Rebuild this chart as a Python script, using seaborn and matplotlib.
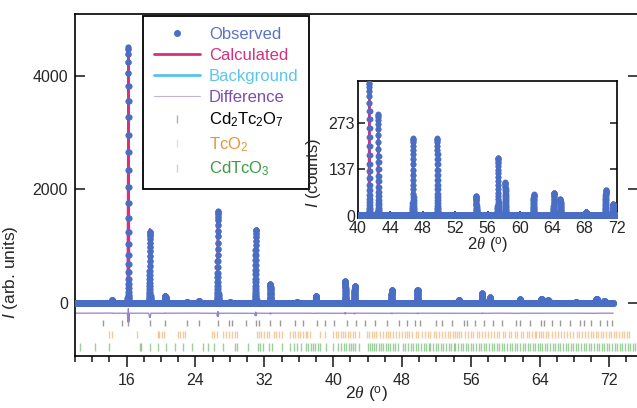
import numpy as np
import pandas as pd
import seaborn as sns
import matplotlib.pyplot as plt
from matplotlib.lines import Line2D
from matplotlib.ticker import MultipleLocator

# Reflections: 2theta (deg) and heights
peak_pos = [14.3, 16.2, 18.7, 20.5, 23.0, 24.4, 26.6, 28.0, 31.0, 32.7, 35.8, 38.0,
            41.4, 42.5, 46.8, 49.8, 54.6, 57.3, 58.2, 61.7, 64.2, 65.0, 68.2, 70.6, 71.5]
obs_height = [55, 4500, 1250, 120, 10, 40, 1610, 10, 1290, 330, 10, 120,
              385, 295, 225, 225, 55, 168, 95, 60, 65, 46, 10, 72, 32]
calc_height = [50, 4420, 1300, 115, 10, 38, 1580, 10, 1270, 325, 10, 118,
               370, 290, 222, 222, 54, 165, 94, 59, 64, 45, 10, 71, 31]
bkg_level = 3
diff_offset = -180

# Bragg tick positions (2theta, deg) for the three phases
cd2tc2o7_ticks = [13.2, 15.5, 16.2, 18.7, 20.5, 23.0, 24.4, 26.6, 27.9, 28.3, 29.9, 31.0,
                  31.4, 32.7, 33.8, 35.6, 36.5, 38.1, 39.1, 40.1, 41.6, 42.6, 43.7, 44.9,
                  46.3, 47.6, 48.6, 49.5, 50.1, 51.9, 52.6, 53.8, 55.2, 55.5, 56.5, 57.5,
                  58.6, 59.6, 61.2, 61.7, 62.9, 64.1, 64.5, 65.4, 66.4, 67.5, 68.7, 69.1,
                  69.9, 71.0, 71.8, 72.4]
tco2_ticks = [14.0, 14.3, 17.2, 19.6, 19.8, 20.1, 20.3, 22.0, 22.2, 22.6, 22.8, 25.9, 26.2,
              26.5, 27.2, 27.5, 27.9, 28.3, 28.6, 28.8, 31.1, 31.4, 31.6, 32.0, 32.3, 32.6,
              33.1, 33.4, 33.7, 34.0, 35.0, 35.3, 35.6, 35.9, 36.2, 36.5, 36.8, 37.0, 37.3,
              38.5, 39.0, 40.0, 40.3, 40.6, 40.9, 41.1, 41.4, 41.7, 42.0, 42.3, 42.5, 43.0,
              43.9, 44.2, 44.5, 44.7, 45.0, 45.4, 45.8, 46.1, 46.4, 46.6, 46.9, 47.3, 47.6,
              48.0, 48.3, 48.6, 48.8, 49.2, 49.6, 49.9, 50.3, 50.7, 51.0, 51.3, 51.7, 52.0,
              52.3, 52.6, 53.0, 53.3, 53.6, 53.9, 54.2, 54.4, 54.6, 54.9, 55.3, 55.7, 56.0,
              56.3, 56.7, 57.0, 57.3, 57.6, 58.0, 58.3, 58.7, 59.0, 59.3, 59.7, 60.0, 60.4,
              60.7, 61.1, 61.4, 61.8, 62.1, 62.5, 62.8, 63.1, 63.4, 63.6, 63.9, 64.1, 64.4,
              64.7, 65.0, 65.4, 65.8, 66.1, 66.5, 66.8, 67.2, 67.5, 67.9, 68.3, 68.6, 68.9,
              69.3, 69.6, 69.9, 70.2, 70.5, 70.8, 71.1, 71.4, 71.7, 72.0, 72.3, 72.6, 72.9,
              73.2, 73.5, 73.8, 74.1, 74.4]
cdtco3_ticks = [10.6, 12.3, 13.9, 17.5, 17.7, 18.7, 19.7, 20.6, 21.6, 22.6, 23.6, 24.9, 25.5,
                26.1, 27.2, 28.6, 28.8, 30.1, 31.3, 31.5, 31.9, 32.5, 32.9, 34.0, 35.0, 35.4,
                35.8, 36.3, 36.9, 37.1, 37.4, 37.6, 37.9, 38.2, 38.5, 39.2, 40.0, 40.6, 40.9,
                41.2, 41.5, 41.8, 42.1, 42.3, 42.5, 43.0, 44.0, 44.3, 44.5, 44.8, 45.0, 45.3,
                45.6, 45.8, 46.1, 46.4, 46.6, 46.9, 47.2, 47.5, 48.1, 48.4, 48.7, 49.0, 49.3,
                49.6, 49.9, 50.2, 50.5, 50.8, 51.1, 51.3, 51.6, 51.9, 52.2, 52.5, 52.8, 53.1,
                53.4, 53.7, 54.0, 54.2, 54.5, 54.8, 55.1, 55.4, 55.7, 56.0, 56.3, 56.6, 56.9,
                57.2, 57.5, 57.8, 58.1, 58.4, 58.7, 59.0, 59.3, 59.6, 59.9, 60.2, 60.5, 60.8,
                61.1, 61.4, 61.7, 62.0, 62.3, 62.6, 62.9, 63.2, 63.5, 63.8, 64.0, 64.3, 64.6,
                64.9, 65.2, 65.5, 65.8, 66.1, 66.4, 66.7, 67.0, 67.3, 67.6, 67.9, 68.2, 68.5,
                68.8, 69.1, 69.4, 69.7, 70.0, 70.3, 70.6, 70.9, 71.2, 71.5, 71.8, 72.1, 72.4,
                72.7, 73.0, 73.3, 73.6, 73.9, 74.2, 74.5, 74.8, 75.1]

# Colours
c_obs = '#4b6ec5'
c_calc = '#d6307e'
c_bkg = '#55c3ec'
c_diff = '#9b7fd0'

#%%
# Build the profiles from the peak table (narrow gaussian lines on a fine 2theta grid)
tt = np.arange(9.9, 72.55, 0.004)
obs = np.zeros_like(tt) + bkg_level
calc = np.zeros_like(tt) + bkg_level
for p, ho, hc in zip(peak_pos, obs_height, calc_height):
    obs += ho * np.exp(-(tt - p) ** 2 / (2 * 0.035 ** 2))
    calc += hc * np.exp(-(tt - p) ** 2 / (2 * 0.037 ** 2))

df = pd.DataFrame({'tt': tt, 'obs': obs, 'calc': calc,
                   'bkg': np.full_like(tt, bkg_level),
                   'diff': obs - calc + diff_offset})

#%%
sns.set_theme(style='ticks')
plt.rcParams['font.family'] = ['Liberation Sans', 'DejaVu Sans']
plt.rcParams['mathtext.fontset'] = 'custom'
plt.rcParams['mathtext.rm'] = 'Liberation Sans'
plt.rcParams['mathtext.it'] = 'Liberation Serif:italic'
plt.rcParams['mathtext.sf'] = 'Liberation Sans:italic'

fig = plt.figure(figsize=(6.37, 4.08), dpi=100)
ax = fig.add_axes([0.1177, 0.1275, 0.8846, 0.8382])

sns.lineplot(data=df, x='tt', y='bkg', color=c_bkg, lw=1.5, ax=ax, zorder=2)
sns.lineplot(data=df, x='tt', y='diff', color=c_diff, lw=0.9, ax=ax, zorder=2)
sns.lineplot(data=df, x='tt', y='calc', color=c_calc, lw=1.6, ax=ax, zorder=3)
sns.scatterplot(data=df, x='tt', y='obs', color=c_obs, s=20, linewidth=0, ax=ax, zorder=4)

ax.vlines(cd2tc2o7_ticks, -410, -295, color='#9a9a9a', lw=1)
ax.vlines(tco2_ticks, -617, -493, color='#f0a050', lw=1, alpha=0.55)
ax.vlines(cdtco3_ticks, -840, -699, color='#4aa84a', lw=1, alpha=0.55)

ax.set_xlim(10, 75.47)
ax.set_ylim(-934, 5092)
ax.set_yticks([0, 2000, 4000])
ax.set_xticks([16, 24, 32, 40, 48, 56, 64, 72])
ax.xaxis.set_minor_locator(MultipleLocator(2))
ax.tick_params(axis='x', which='major', direction='out', length=8, width=1.2, labelsize=11.5, pad=4)
ax.tick_params(axis='x', which='minor', direction='out', length=4, width=1.2)
ax.tick_params(axis='y', direction='in', length=7, width=1.2, labelsize=11.5, pad=5,
               right=True)
for s in ax.spines.values():
    s.set_linewidth(1.2)
    s.set_color('black')

ax.set_xlabel(r'$\mathit{2\theta}$ ($^{\rm o}$)', fontsize=12.5)
ax.xaxis.set_label_coords(0.517, -0.085)
ax.set_ylabel(r'$\mathsf{I}$ (arb. units)', fontsize=12.5)
ax.yaxis.set_label_coords(-0.098, 0.245)

handles = [
    Line2D([], [], ls='none', marker='o', markersize=4, color=c_obs),
    Line2D([], [], color=c_calc, lw=2),
    Line2D([], [], color=c_bkg, lw=2),
    Line2D([], [], color='#c2b2e0', lw=0.8),
    Line2D([], [], ls='none', marker='|', markersize=6, color='#b0b0b0'),
    Line2D([], [], ls='none', marker='|', markersize=6, color='#f5dcc4'),
    Line2D([], [], ls='none', marker='|', markersize=6, color='#c8d6c8'),
]
labels = ['Observed', 'Calculated', 'Background', 'Difference',
          r'Cd$_\mathrm{2}$Tc$_\mathrm{2}$O$_\mathrm{7}$', r'TcO$_\mathrm{2}$',
          r'CdTcO$_\mathrm{3}$']
leg = ax.legend(handles, labels, loc='upper left', bbox_to_anchor=(0.1207, 0.994),
                borderaxespad=0, fontsize=12, frameon=True, fancybox=False,
                framealpha=1, edgecolor='black', handlelength=2.8, handletextpad=0.5,
                labelspacing=0.36, borderpad=0.65,
                labelcolor=['#5a73c4', c_calc, '#5bc5ec', '#7a4fb0', 'black',
                            '#e8953a', '#3f9a45'])
leg.get_frame().set_linewidth(1.3)

#%%
# Inset zoom on the high-angle part
axin = fig.add_axes([358 / 637, 190 / 408, 259 / 637, 137 / 408])
sns.lineplot(data=df, x='tt', y='calc', color=c_calc, lw=1.6, ax=axin, zorder=3)
sns.scatterplot(data=df, x='tt', y='obs', color=c_obs, s=18, linewidth=0, ax=axin, zorder=4)
axin.set_xlim(40, 72)
axin.set_ylim(-6, 395)
axin.set_xticks([40, 44, 48, 52, 56, 60, 64, 68, 72])
axin.set_yticks([0, 137, 273])
axin.tick_params(direction='in', length=5, width=1.2, labelsize=11.5, pad=2,
                 right=True)
for s in axin.spines.values():
    s.set_linewidth(1.2)
    s.set_color('black')
axin.set_xlabel(r'$\mathit{2\theta}$ ($^{\rm o}$)', fontsize=12, labelpad=0)
axin.set_ylabel(r'$\mathsf{I}$ (counts)', fontsize=12)
axin.yaxis.set_label_coords(-0.135, 0.33)

fig.savefig('out.png', dpi=100)
